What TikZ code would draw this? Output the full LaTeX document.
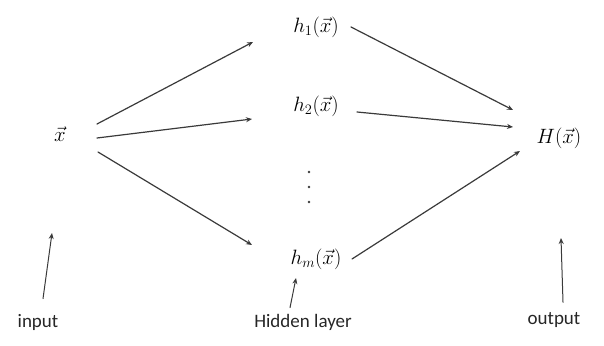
\documentclass[tikz,border=0pt]{standalone}
\usepackage{fontspec}
\setmainfont{Carlito}
\usepackage{tikz}
\usetikzlibrary{arrows.meta,positioning,calc}

\definecolor{linegray}{HTML}{3A3A3A}

\tikzset{
  arr/.style={-{Stealth[length=6pt,width=5pt]}, linegray, line width=1.2pt},
  mth/.style={inner sep=2pt, font=\fontsize{22}{24}\selectfont},
  lbl/.style={inner sep=2pt, font=\fontsize{19}{22}\selectfont, text=black!85}
}

\begin{document}
\begin{tikzpicture}[x=1pt, y=-1pt, line cap=round, line join=round]
\useasboundingbox (0,0) rectangle (604,345);

% layer nodes
\node[mth] (xin) at (60,134) {$\vec{x}$};
\node[mth] (h1) at (316,27) {$h_1(\vec{x})$};
\node[mth] (h2) at (316,106) {$h_2(\vec{x})$};
\coordinate (dots) at (309,187);
\node[mth] (hm) at (316,259) {$h_m(\vec{x})$};
\node[mth] (Hout) at (559,138) {$H(\vec{x})$};

% vertical dots
\foreach \d in {-15,0,15}
  \fill[linegray] ([yshift=\d pt]dots) circle (1.4);

% labels
\node[lbl] (input) at (38,322) {input};
\node[lbl] (hidden) at (303,322) {Hidden layer};
\node[lbl] (output) at (554,320) {output};

\coordinate (inptip) at (52,233);
\coordinate (hidtip) at (296,278);
\coordinate (outtip) at (561,238);

% input to hidden
\draw[arr] ([xshift=37pt,yshift=10pt]xin.center) -- ([xshift=-63pt,yshift=-15pt]h1.center);
\draw[arr] ([xshift=37pt,yshift=-4pt]xin.center) -- ([xshift=-64pt,yshift=-13pt]h2.center);
\draw[arr] ([xshift=38pt,yshift=-18pt]xin.center) -- ([xshift=-64pt,yshift=14pt]hm.center);

% hidden to output
\draw[arr] ([xshift=35pt]h1.center) -- ([xshift=-46pt,yshift=28pt]Hout.center);
\draw[arr] ([xshift=41pt,yshift=-6pt]h2.center) -- ([xshift=-46pt,yshift=11pt]Hout.center);
\draw[arr] ([xshift=36pt]hm.center) -- ([xshift=-39pt,yshift=-13pt]Hout.center);

% pointers
\draw[arr, line width=1pt] ([xshift=5pt,yshift=13pt]input.north) -- (inptip);
\draw[arr, line width=1pt] ([xshift=-13pt,yshift=4pt]hidden.north) -- (hidtip);
\draw[arr, line width=1pt] ([xshift=9pt,yshift=8pt]output.north) -- (outtip);

\end{tikzpicture}
\end{document}
